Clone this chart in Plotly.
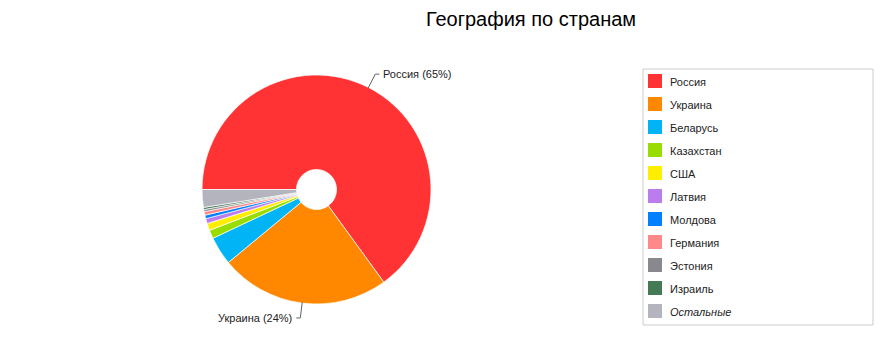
import math
import plotly.graph_objects as go

title = "География по странам"
countries = ["Россия", "Украина", "Беларусь", "Казахстан", "США", "Латвия",
             "Молдова", "Германия", "Эстония", "Израиль", "Остальные"]
shares = [65, 24, 4, 1.2, 1, 0.7, 0.5, 0.5, 0.3, 0.3, 2.5]
colors = ["#FF3333", "#FF8800", "#00B4F5", "#99DD00", "#FFEE00", "#BB7CEE",
          "#0080FF", "#FF8888", "#88888E", "#447A55", "#B4B4BE"]
legend_labels = countries[:-1] + ["<i>Остальные</i>"]

W, H = 894, 360
cx, cy, r = 316.5, 189.5, 114.5

def px(x):
    return x / W

def py(y):
    return 1 - y / H

fig = go.Figure()
fig.add_trace(go.Pie(
    labels=countries, values=shares, sort=False, direction="clockwise",
    rotation=-90, hole=0.175, textinfo="none", showlegend=False,
    marker=dict(colors=colors, line=dict(color="white", width=0.7)),
    domain=dict(x=[px(cx - r), px(cx + r)], y=[py(cy + r), py(cy - r)]),
))

shapes = []
annotations = []
total = sum(shares)
cum = 0.0
for name, v in zip(countries, shares):
    mid = (cum + v / 2) / total
    cum += v
    pct = 100 * v / total
    if pct < 10:
        continue
    phi = math.radians(180 + 360 * mid)
    dx, dy = math.cos(phi), math.sin(phi)
    x1, y1 = cx + (r - 1) * dx, cy + (r - 1) * dy
    x2, y2 = cx + (r + 15) * dx, cy + (r + 15) * dy
    side = 1 if dx >= 0 else -1
    x3 = x2 + 4 * side
    for (a, b, c, d) in [(x1, y1, x2, y2), (x2, y2, x3, y2)]:
        shapes.append(dict(type="line", xref="paper", yref="paper",
                           x0=px(a), y0=py(b), x1=px(c), y1=py(d),
                           line=dict(color="#636363", width=1)))
    annotations.append(dict(
        text=f"{name} ({round(pct)}%)", xref="paper", yref="paper",
        x=px(x3 + 2 * side), y=py(y2), showarrow=False,
        xanchor="left" if side > 0 else "right", yanchor="middle",
        font=dict(family="Liberation Sans, Arial", size=11, color="#222222")))

# legend box
lx0, ly0, lx1, ly1 = 643, 69, 873, 325
shapes.append(dict(type="rect", xref="paper", yref="paper",
                   x0=px(lx0), y0=py(ly0), x1=px(lx1), y1=py(ly1),
                   line=dict(color="#CCCCCC", width=1), fillcolor="white", layer="below"))
for i, (lab, col) in enumerate(zip(legend_labels, colors)):
    top = 74 + 23 * i
    shapes.append(dict(type="rect", xref="paper", yref="paper",
                       x0=px(648), y0=py(top), x1=px(662), y1=py(top + 14),
                       line=dict(width=0), fillcolor=col))
    annotations.append(dict(
        text=lab, xref="paper", yref="paper", x=px(668), y=py(top + 8),
        showarrow=False, xanchor="left", yanchor="middle",
        font=dict(family="Liberation Sans, Arial", size=11, color="#222222")))

fig.update_layout(
    width=W, height=H, margin=dict(l=0, r=0, t=0, b=0),
    paper_bgcolor="white", plot_bgcolor="white",
    title=dict(text=title, x=px(531), xanchor="center", y=py(19), yanchor="middle",
               font=dict(family="Liberation Sans, Arial", size=20, color="#000000")),
    shapes=shapes, annotations=annotations, showlegend=False,
)
fig.write_html("out.html")
